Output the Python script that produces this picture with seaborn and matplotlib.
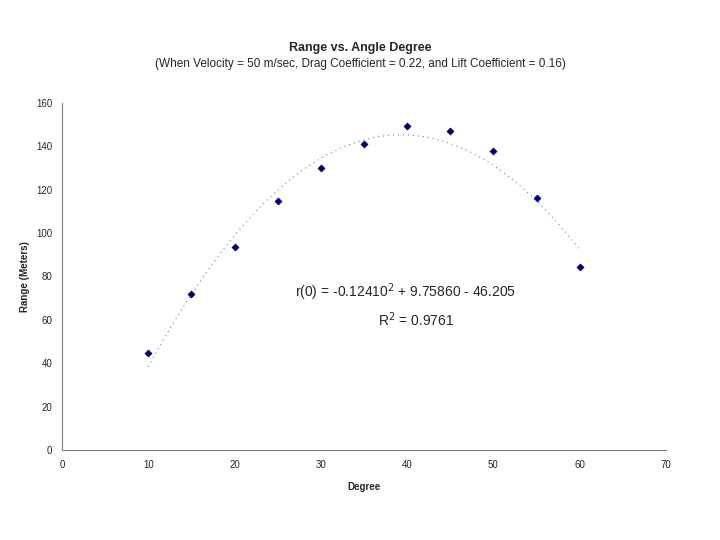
import numpy as np
import pandas as pd
import matplotlib
matplotlib.use("Agg")
import matplotlib.pyplot as plt
import seaborn as sb

angle = [10, 15, 20, 25, 30, 35, 40, 45, 50, 55, 60]
rng = [44.7, 71.9, 93.6, 114.8, 130.0, 141.1, 149.4, 147.1, 137.9, 116.2, 84.4]
df = pd.DataFrame({'Degree': angle, 'Range': rng})

sb.set_style('white')
plt.rcParams['font.family'] = ['Liberation Sans', 'DejaVu Sans']

fig = plt.figure(figsize=(7.2, 5.4), dpi=100)
ax = fig.add_axes([0.086, 0.1667, 0.839, 0.6426])

# quadratic trendline, dotted like the excel one
sb.regplot(data=df, x='Degree', y='Range', order=2, ci=None, scatter=False, ax=ax,
           line_kws=dict(color='#3a9bb0', lw=0.8, ls=(0, (1, 3.5))), truncate=True)
sb.scatterplot(data=df, x='Degree', y='Range', marker='D', s=14, color='#000066',
               edgecolor='#000066', ax=ax, zorder=3)

ax.set_xlim(0, 70)
ax.set_ylim(0, 160)
ax.set_xticks(range(0, 71, 10))
ax.set_yticks(range(0, 161, 20))
ax.tick_params(labelsize=7, length=3, color='#808080', direction='out', pad=4)
for s in ['left', 'bottom']:
    ax.spines[s].set_color('#808080')
    ax.spines[s].set_linewidth(0.8)
for s in ['top', 'right']:
    ax.spines[s].set_visible(False)

ax.set_xlabel('Degree', fontsize=7, fontweight='bold', labelpad=9)
ax.set_ylabel('Range (Meters)', fontsize=7, fontweight='bold', labelpad=4)

fig.text(0.5, 0.911, 'Range vs. Angle Degree', ha='center', va='center',
         fontsize=9, fontweight='bold')
fig.text(0.5, 0.881, '(When Velocity = 50 m/sec, Drag Coefficient = 0.22, and Lift Coefficient = 0.16)',
         ha='center', va='center', fontsize=8.5)

ax.text(27.0, 72.8, r'r(0) = -0.12410$^2$ + 9.75860 - 46.205', ha='left', va='center',
        fontsize=10)
ax.text(36.6, 59.9, r'R$^2$ = 0.9761', ha='left', va='center', fontsize=10)

plt.savefig('out.png', dpi=100)
